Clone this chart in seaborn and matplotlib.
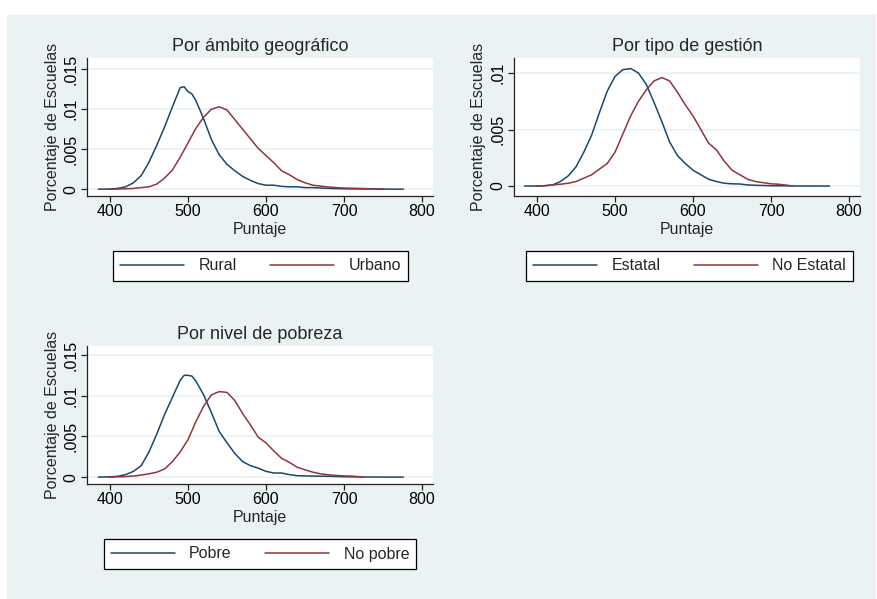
import matplotlib
matplotlib.use("Agg")
import matplotlib.pyplot as plt
import seaborn as sns
import pandas as pd
from matplotlib.lines import Line2D
from matplotlib.patches import Rectangle

# ---------------- data ----------------
rural_x = [385, 400, 410, 420, 430, 440, 450, 460, 470, 480, 490, 495, 500, 505, 510, 520, 530, 540, 550, 560,
           570, 580, 590, 600, 610, 620, 630, 640, 650, 660, 670, 680, 700, 740, 776]
rural_y = [0, 0.00002, 0.0001, 0.0003, 0.0008, 0.0017, 0.0034, 0.0055, 0.0078, 0.0103, 0.0127, 0.0128, 0.0122,
           0.0119, 0.0111, 0.0088, 0.0062, 0.0043, 0.0031, 0.0023, 0.0016, 0.0011, 0.0007, 0.0005, 0.0005,
           0.00035, 0.0003, 0.0003, 0.0002, 0.0002, 0.00015, 0.0001, 0.00005, 0.00002, 0]
urbano_x = [398, 410, 420, 430, 440, 450, 460, 470, 480, 490, 500, 510, 520, 530, 540, 550, 560, 570, 580, 590,
            600, 610, 620, 630, 640, 650, 660, 670, 680, 690, 700, 720, 740, 752]
urbano_y = [0, 0.00002, 0.00005, 0.0001, 0.0002, 0.0003, 0.00064, 0.0014, 0.0024, 0.004, 0.0058, 0.0076, 0.009,
            0.01, 0.0103, 0.0099, 0.0087, 0.0075, 0.0063, 0.0051, 0.0042, 0.0033, 0.0023, 0.0018, 0.0012, 0.0008,
            0.0005, 0.00038, 0.00028, 0.0002, 0.00014, 0.0001, 0.00004, 0]

estatal_x = [384, 400, 410, 420, 430, 440, 450, 460, 470, 480, 490, 500, 510, 520, 530, 540, 550, 560, 570, 580,
             590, 600, 610, 620, 630, 640, 650, 660, 670, 680, 700, 730, 775]
estatal_y = [0, 0.00001, 0.00003, 0.0001, 0.0004, 0.0009, 0.0017, 0.003, 0.0045, 0.0065, 0.0084, 0.0097, 0.0103,
             0.0104, 0.01, 0.009, 0.0074, 0.0057, 0.0039, 0.0027, 0.002, 0.0014, 0.001, 0.0006, 0.0004, 0.00025,
             0.0002, 0.00018, 0.0001, 0.00007, 0.00003, 0.00001, 0]
noestatal_x = [399, 410, 420, 430, 440, 450, 460, 470, 480, 490, 500, 510, 520, 530, 540, 550, 560, 570, 580, 590,
               600, 610, 620, 630, 640, 650, 660, 670, 680, 690, 700, 710, 720, 728]
noestatal_y = [0, 0.00003, 0.0001, 0.00016, 0.00025, 0.0004, 0.0007, 0.001, 0.0015, 0.002, 0.003, 0.0046, 0.0062,
               0.0075, 0.0085, 0.0093, 0.0096, 0.0093, 0.0083, 0.0072, 0.0062, 0.005, 0.0038, 0.0032, 0.0022,
               0.0014, 0.001, 0.0006, 0.0004, 0.0003, 0.0002, 0.00016, 0.00008, 0]

pobre_x = [385, 400, 410, 420, 430, 440, 450, 460, 470, 480, 490, 495, 500, 505, 510, 520, 530, 540, 550, 560,
           570, 580, 590, 600, 610, 620, 630, 640, 660, 680, 700, 725, 776]
pobre_y = [0, 0.00003, 0.0001, 0.0003, 0.0007, 0.0014, 0.0031, 0.0053, 0.0077, 0.0098, 0.0119, 0.0125, 0.0125,
           0.0124, 0.0118, 0.0101, 0.0079, 0.0056, 0.0042, 0.0029, 0.0019, 0.0014, 0.0011, 0.0007, 0.0005,
           0.0005, 0.0003, 0.00017, 0.00012, 0.0001, 0.00004, 0.00001, 0]
nopobre_x = [397, 410, 420, 430, 440, 450, 460, 470, 480, 490, 500, 510, 520, 530, 540, 550, 560, 570, 580, 590,
             600, 610, 620, 630, 640, 650, 660, 670, 680, 690, 700, 710, 725]
nopobre_y = [0, 0.00003, 0.00006, 0.00013, 0.00025, 0.0004, 0.0006, 0.001, 0.0019, 0.0031, 0.0046, 0.0068,
             0.0087, 0.0101, 0.0105, 0.0104, 0.0094, 0.0078, 0.0064, 0.0049, 0.0042, 0.0032, 0.0023, 0.0018,
             0.0012, 0.0009, 0.0006, 0.0004, 0.00028, 0.0002, 0.00014, 0.00012, 0]

titles = ["Por ámbito geográfico", "Por tipo de gestión", "Por nivel de pobreza"]
series_names = [("Rural", "Urbano"), ("Estatal", "No Estatal"), ("Pobre", "No pobre")]
x_ticks = [400, 500, 600, 700, 800]
y_ticks_a = [0, 0.005, 0.01, 0.015]
y_labels_a = ["0", ".005", ".01", ".015"]
y_ticks_b = [0, 0.005, 0.01]
y_labels_b = ["0", ".005", ".01"]
xlabel = "Puntaje"
ylabel = "Porcentaje de Escuelas"

# ---------------- style ----------------
sns.set_theme(style="white")
plt.rcParams["font.family"] = ["Liberation Sans", "DejaVu Sans"]
BG = "#EAF2F3"
BLUE = "#1A476F"
RED = "#90353B"
FS = 11.5

W, H = 877, 599
fig = plt.figure(figsize=(W / 100, H / 100), dpi=100)
fig.patch.set_facecolor("white")
fig.patches.append(Rectangle((7 / W, 0), 1 - 8 / W, 1 - 15 / H, transform=fig.transFigure,
                             facecolor=BG, edgecolor="none", zorder=-10))

def px_axes(left, top, right, bottom):
    return fig.add_axes([left / W, 1 - bottom / H, (right - left) / W, (bottom - top) / H])

panels = [
    dict(box=(87, 58, 433, 196), data=(rural_x, rural_y, urbano_x, urbano_y),
         yt=y_ticks_a, yl=y_labels_a, ylim=(-0.00085, 0.0164), leg=(260.5, 266)),
    dict(box=(514, 58, 860, 196), data=(estatal_x, estatal_y, noestatal_x, noestatal_y),
         yt=y_ticks_b, yl=y_labels_b, ylim=(-0.00088, 0.01133), leg=(689.5, 266)),
    dict(box=(87, 346, 433, 484), data=(pobre_x, pobre_y, nopobre_x, nopobre_y),
         yt=y_ticks_a, yl=y_labels_a, ylim=(-0.00085, 0.0161), leg=(260, 554)),
]

for i, p in enumerate(panels):
    ax = px_axes(*p["box"])
    ax.set_facecolor("white")
    x1, y1, x2, y2 = p["data"]
    n1, n2 = series_names[i]
    df = pd.concat([
        pd.DataFrame({"x": x1, "y": y1, "g": n1}),
        pd.DataFrame({"x": x2, "y": y2, "g": n2}),
    ])
    for yv in p["yt"]:
        ax.axhline(yv, color=BG, lw=1.2, zorder=0)
    sns.lineplot(data=df, x="x", y="y", hue="g", palette=[BLUE, RED], ax=ax,
                 linewidth=1.1, legend=False, sort=False, estimator=None)
    ax.set_xlim(370.5, 814)
    ax.set_ylim(*p["ylim"])
    ax.set_xticks(x_ticks)
    ax.set_xticklabels([str(t) for t in x_ticks], fontsize=FS)
    ax.set_yticks(p["yt"])
    ax.set_yticklabels(p["yl"], fontsize=FS, rotation=90, va="center")
    ax.set_xlabel(xlabel, fontsize=FS, labelpad=2)
    ax.set_ylabel(ylabel, fontsize=FS, labelpad=3)
    ax.set_title(titles[i], fontsize=13, pad=5)
    for s in ["top", "right"]:
        ax.spines[s].set_visible(False)
    for s in ["left", "bottom"]:
        ax.spines[s].set_color("#222222")
        ax.spines[s].set_linewidth(0.9)
    ax.tick_params(axis="both", which="major", length=4, width=0.9, color="#222222",
                   direction="out", pad=2, left=True, bottom=True, labelcolor="black")
    handles = [Line2D([], [], color=BLUE, lw=1.1), Line2D([], [], color=RED, lw=1.1)]
    cx, cy = p["leg"]
    leg = ax.legend(handles, [n1, n2], loc="center", bbox_to_anchor=(cx / W, 1 - cy / H),
                    bbox_transform=fig.transFigure, ncol=2, fontsize=FS, frameon=True,
                    fancybox=False, edgecolor="black", framealpha=1, handlelength=4.0,
                    handletextpad=0.9, columnspacing=2.1, borderpad=0.45, borderaxespad=0)
    leg.get_frame().set_linewidth(0.9)

fig.savefig("out.png", dpi=100, facecolor=fig.get_facecolor())
